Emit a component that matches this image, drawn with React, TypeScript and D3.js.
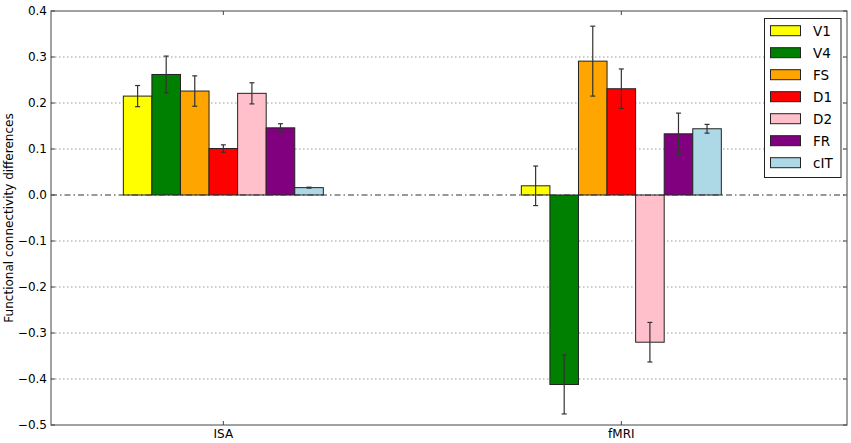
import React from "react";
import * as d3 from "d3";

const groups = ["ISA", "fMRI"];
const series = ["V1", "V4", "FS", "D1", "D2", "FR", "cIT"];
const colors = ["#ffff00", "#008000", "#ffa500", "#ff0000", "#ffc0cb", "#800080", "#add8e6"];
const isaValues = [0.215, 0.262, 0.226, 0.101, 0.221, 0.146, 0.016];
const isaErrors = [0.023, 0.04, 0.033, 0.008, 0.023, 0.009, 0.001];
const fmriValues = [0.02, -0.412, 0.291, 0.231, -0.32, 0.133, 0.144];
const fmriErrors = [0.043, 0.064, 0.076, 0.043, 0.043, 0.045, 0.0095];
const yTicks = [0.4, 0.3, 0.2, 0.1, 0.0, -0.1, -0.2, -0.3, -0.4, -0.5];

const W = 851, H = 443;
const L = 51, R = 847, T = 11, B = 425;

export default function App() {
  const y = d3.scaleLinear().domain([-0.5, 0.4]).range([B, T]);
  const x = d3.scaleLinear().domain([-0.433, 1.567]).range([L, R]);
  const groupWidth = 0.5025;
  const bw = groupWidth / series.length;
  const data = [
    { vals: isaValues, errs: isaErrors },
    { vals: fmriValues, errs: fmriErrors },
  ];
  const fmt = (v: number) => (v < 0 ? "\u2212" : "") + Math.abs(v).toFixed(1);
  const font = "DejaVu Sans, sans-serif";
  return (
    <svg width={W} height={H} style={{ position: "absolute", left: 0, top: 0, background: "#fff" }}>
      <rect x={0} y={0} width={W} height={H} fill="#fff" />
      {yTicks.map((t) => (
        t !== 0 && t !== 0.4 && t !== -0.5 ? (
          <line key={"g" + t} x1={L} x2={R} y1={y(t)} y2={y(t)} stroke="#999" strokeWidth={1} strokeDasharray="1.5,2.5" />
        ) : null
      ))}
      {data.map((g, gi) =>
        g.vals.map((v, i) => {
          const x0 = x(gi - groupWidth / 2 + i * bw);
          const x1 = x(gi - groupWidth / 2 + (i + 1) * bw);
          const top = y(Math.max(0, v));
          const bot = y(Math.min(0, v));
          return (
            <rect key={gi + "-" + i} x={x0} y={top} width={x1 - x0} height={bot - top}
              fill={colors[i]} stroke="#222" strokeWidth={1} />
          );
        })
      )}
      <line x1={L} x2={R} y1={y(0)} y2={y(0)} stroke="#333" strokeWidth={1} strokeDasharray="6,3,1.5,3" />
      {data.map((g, gi) =>
        g.vals.map((v, i) => {
          const cx = x(gi - groupWidth / 2 + (i + 0.5) * bw);
          const e = g.errs[i];
          return (
            <g key={"e" + gi + "-" + i} stroke="#333" strokeWidth={1.2}>
              <line x1={cx} x2={cx} y1={y(v + e)} y2={y(v - e)} />
              <line x1={cx - 2.5} x2={cx + 2.5} y1={y(v + e)} y2={y(v + e)} />
              <line x1={cx - 2.5} x2={cx + 2.5} y1={y(v - e)} y2={y(v - e)} />
            </g>
          );
        })
      )}
      <rect x={L} y={T} width={R - L} height={B - T} fill="none" stroke="#444" strokeWidth={1} />
      {yTicks.map((t) => (
        <g key={"t" + t}>
          <line x1={L} x2={L + 4} y1={y(t)} y2={y(t)} stroke="#444" />
          <line x1={R - 4} x2={R} y1={y(t)} y2={y(t)} stroke="#444" />
          <text x={L - 4} y={y(t)} dy="0.36em" textAnchor="end" fontFamily={font} fontSize={12} fill="#000">{fmt(t)}</text>
        </g>
      ))}
      {groups.map((gname, gi) => (
        <g key={gname}>
          <line x1={x(gi)} x2={x(gi)} y1={B} y2={B - 4} stroke="#444" />
          <line x1={x(gi)} x2={x(gi)} y1={T} y2={T + 4} stroke="#444" />
          <text x={x(gi)} y={B + 13} textAnchor="middle" fontFamily={font} fontSize={12} fill="#000">{gname}</text>
        </g>
      ))}
      <text transform={`translate(13,${(T + B) / 2}) rotate(-90)`} textAnchor="middle" fontFamily={font} fontSize={12} fill="#000">
        Functional connectivity differences
      </text>
      <g>
        <rect x={764.5} y={18.5} width={76.5} height={159} fill="#fff" stroke="#222" strokeWidth={1} />
        {series.map((s, i) => (
          <g key={s}>
            <rect x={770.5} y={30.7 + i * 22 - 5} width={30} height={10} fill={colors[i]} stroke="#222" strokeWidth={1} />
            <text x={813} y={30.7 + i * 22} dy="0.36em" fontFamily={font} fontSize={13.5} fill="#000">{s}</text>
          </g>
        ))}
      </g>
    </svg>
  );
}
